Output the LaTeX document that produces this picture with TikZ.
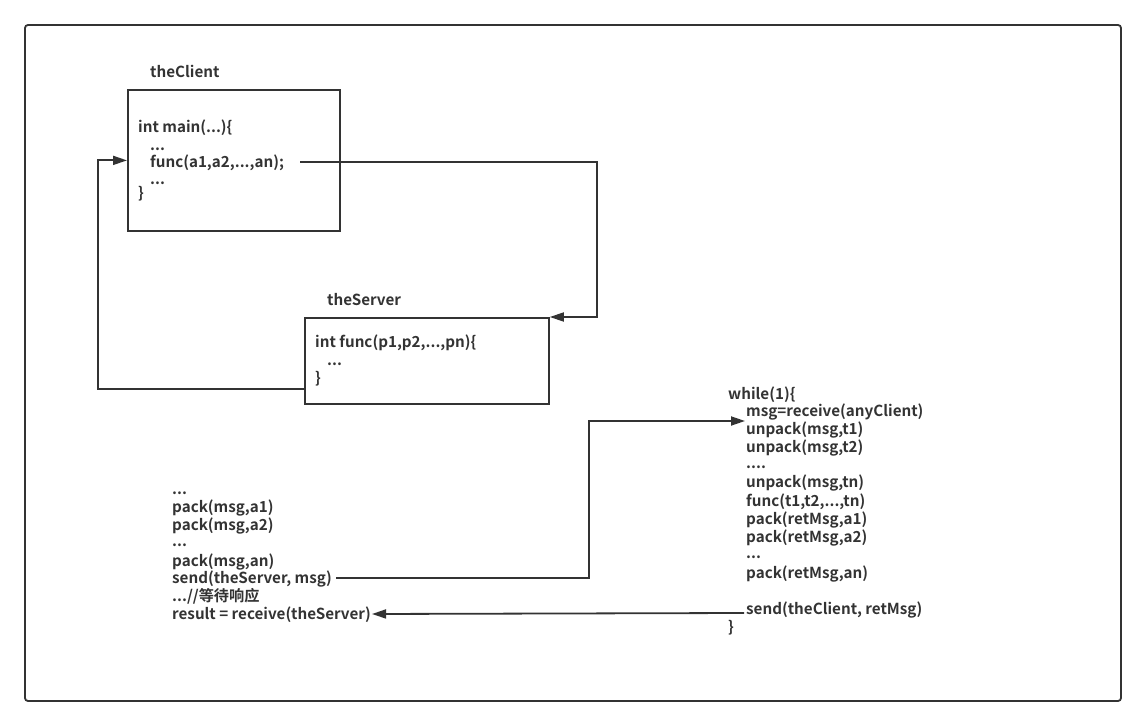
\documentclass[tikz,border=0pt]{standalone}
\usepackage{fontspec}
\setmainfont{Noto Sans CJK SC}[BoldFont=* Bold]
\usetikzlibrary{arrows.meta,calc}
\definecolor{ink}{HTML}{333333}
\tikzset{
  box/.style={draw=ink,line width=1.8pt,rectangle,anchor=north west,inner sep=0pt},
  txt/.style={anchor=base west,inner sep=0pt,text=ink,font=\fontsize{15.2}{18}\selectfont\bfseries},
  conn/.style={draw=ink,line width=1.8pt,-{Triangle[length=14pt,width=9pt]}},
}
\begin{document}
\begin{tikzpicture}[x=1pt,y=-1pt]
\useasboundingbox (0,0) rectangle (1146,727);
\draw[ink,line width=1.8pt,rounded corners=3pt] (25,25) rectangle (1121,701);
% client
\node[box,minimum width=212pt,minimum height=141pt] (client) at (127,89) {};
\node[txt] (clbl) at (150,78) {theClient};
\node[txt] (c1) at (138,133) {int main(...)\{};
\node[txt] (c2) at (150,151) {...};
\node[txt] (cfunc) at (150,168) {func(a1,a2,...,an);};
\node[txt] (c4) at (150,185) {...};
\node[txt] (c5) at (138,199) {\}};
% server
\node[box,minimum width=244pt,minimum height=86pt] (server) at (304,317) {};
\node[txt] (slbl) at (327,306) {theServer};
\node[txt] (s1) at (315,348) {int func(p1,p2,...,pn)\{};
\node[txt] (s2) at (327,366) {...};
\node[txt] (s3) at (315,383) {\}};
% client side code
\node[txt] (l1) at (172,494) {...};
\node[txt] (l2) at (172,512) {pack(msg,a1)};
\node[txt] (l3) at (172,530) {pack(msg,a2)};
\node[txt] (l4) at (172,546) {...};
\node[txt] (l5) at (172,566) {pack(msg,an)};
\node[txt] (lsend) at (172,583) {send(theServer, msg)};
\node[txt] (l7) at (172,601) {.../\kern0pt/等待响应};
\node[txt] (lres) at (172,619) {result = receive(theServer)};
% server side code
\node[txt] (w0) at (728,399) {while(1)\{};
\node[txt] (wmsg) at (746,416) {msg=receive(anyClient)};
\node[txt] (w2) at (746,434) {unpack(msg,t1)};
\node[txt] (w3) at (746,452) {unpack(msg,t2)};
\node[txt] (w4) at (746,468) {....};
\node[txt] (w5) at (746,487) {unpack(msg,tn)};
\node[txt] (w6) at (746,506) {func(t1,t2,...,tn)};
\node[txt] (w7) at (746,524) {pack(retMsg,a1)};
\node[txt] (w8) at (746,542) {pack(retMsg,a2)};
\node[txt] (w9) at (746,558) {...};
\node[txt] (w10) at (746,578) {pack(retMsg,an)};
\node[txt] (wsend) at (746,614) {send(theClient, retMsg)};
\node[txt] (w12) at (728,632) {\}};
% connectors
\coordinate (k1) at (597,162);
\coordinate (k2) at (98,389);
\coordinate (k3) at (589,421);
\draw[conn] (300,162) coordinate (cs) -- (k1) |- (server.north east);
\draw[conn] (server.west |- k2) -- (k2) |- (client.west);
\draw[conn] ([xshift=4pt]lsend.east |- 0,578) -| (k3) -- ([xshift=-1pt]wmsg.west |- k3);
\draw[conn] ([xshift=-2pt]wsend.west |- 0,613) -- ([xshift=1pt]lres.east |- 0,614);
\end{tikzpicture}
\end{document}
